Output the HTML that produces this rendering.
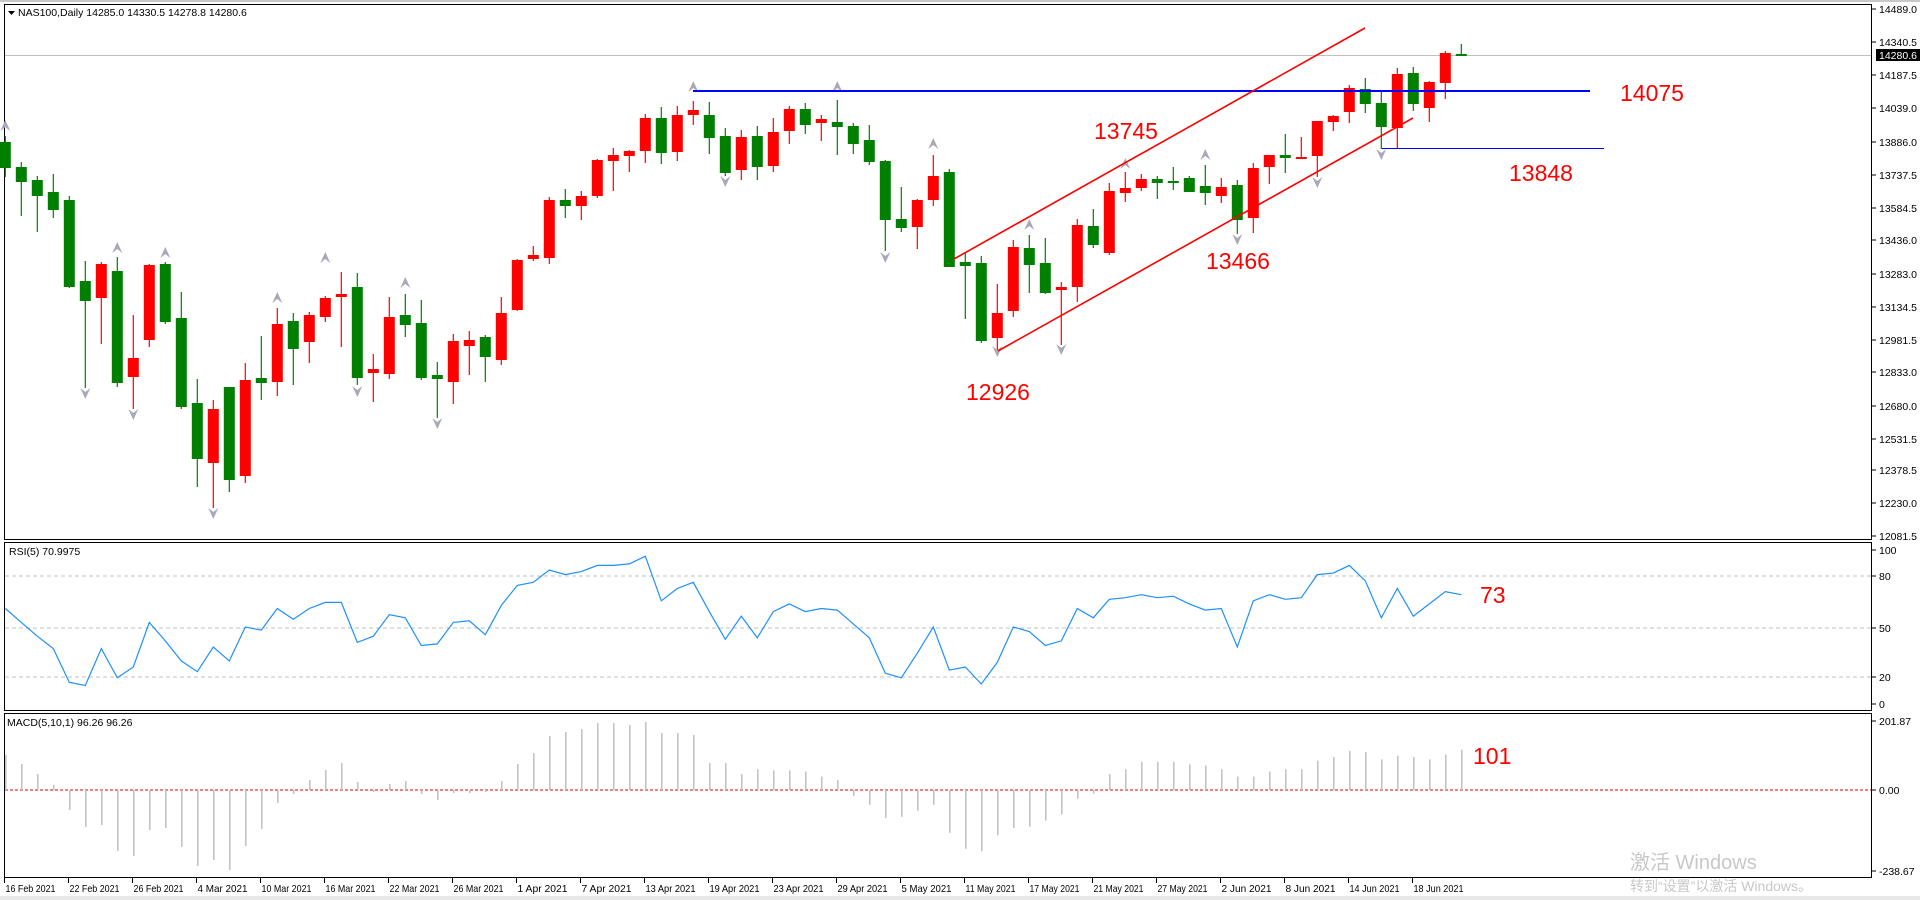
<!DOCTYPE html>
<html><head><meta charset="utf-8"><style>
html,body{margin:0;padding:0;background:#fff;width:1920px;height:900px;overflow:hidden}
svg{display:block}
text{font-family:"Liberation Sans","Noto Sans CJK SC",sans-serif}
</style></head><body>
<svg id="s" width="1920" height="900" viewBox="0 0 1920 900" xmlns="http://www.w3.org/2000/svg">
<rect x="0" y="0" width="1920" height="900" fill="#fff"/>
<rect x="0" y="0" width="1920" height="2" fill="#c8c8c8"/>
<rect x="0" y="896" width="1920" height="4" fill="#e8e8e8"/>
<g id="g"></g>
</svg>
<script>
var g=document.getElementById('g');var h='';
function X(i){return 5.3+16*i;}
h+='<rect x="4.5" y="4.5" width="1867" height="535" fill="none" stroke="#000"/>';
h+='<rect x="4.5" y="542.5" width="1867" height="168" fill="none" stroke="#000"/>';
h+='<rect x="4.5" y="713.5" width="1867" height="164" fill="none" stroke="#000"/>';
h+='<line x1="5" y1="55.5" x2="1871" y2="55.5" stroke="#c0c0c0"/>';
var pl=[["14489.0",9],["14340.5",42],["14187.5",75],["14039.0",108],["13886.0",142],["13737.5",175],["13584.5",208],["13436.0",240],["13283.0",274],["13134.5",307],["12981.5",340],["12833.0",372],["12680.0",406],["12531.5",439],["12378.5",470],["12230.0",503],["12081.5",536]];
pl.forEach(function(p){h+='<line x1="1872" y1="'+p[1]+'" x2="1876" y2="'+p[1]+'" stroke="#000"/><text x="1879" y="'+(p[1]+4)+'" font-size="10.5" fill="#000">'+p[0]+'</text>';});
h+='<rect x="1876" y="49" width="44" height="12" fill="#000"/><text x="1879" y="59" font-size="10.5" fill="#fff">14280.6</text>';
[["100",550],["80",576],["50",628],["20",677],["0",704]].forEach(function(p){h+='<line x1="1872" y1="'+p[1]+'" x2="1876" y2="'+p[1]+'" stroke="#000"/><text x="1879" y="'+(p[1]+4)+'" font-size="10.5">'+p[0]+'</text>';});
[576,628,677].forEach(function(y){h+='<line x1="5" y1="'+y+'" x2="1871" y2="'+y+'" stroke="#c0c0c0" stroke-dasharray="4,3"/>';});
[["201.87",721],["0.00",790],["-238.67",871]].forEach(function(p){h+='<line x1="1872" y1="'+p[1]+'" x2="1876" y2="'+p[1]+'" stroke="#000"/><text x="1879" y="'+(p[1]+4)+'" font-size="10.5">'+p[0]+'</text>';});
var c=[[142,168,136,177],[167,182,162,216],[180,196,176,232],[192,210,174,218],[200,287,196,288],[281,301,261,388],[298,264,262,344],[271,383,257,387],[377,358,315,409],[340,265,264,347],[264,322,262,324],[318,407,292,409],[403,459,379,487],[463,409,400,508],[387,480,387,492],[476,380,363,483],[378,383,336,400],[382,324,308,396],[321,349,313,385],[342,315,312,363],[317,298,296,322],[297,294,272,347],[287,378,273,385],[373,369,354,402],[374,317,297,379],[315,325,294,337],[323,378,300,380],[375,379,362,418],[382,341,334,404],[346,340,331,375],[337,357,335,382],[360,313,297,365],[310,260,259,311],[259,255,246,261],[258,200,197,264],[200,206,189,218],[206,196,191,220],[196,160,159,198],[161,155,148,191],[156,151,150,172],[151,118,114,163],[118,153,107,164],[152,115,106,161],[115,110,101,125],[115,138,102,154],[136,173,128,176],[170,137,130,180],[136,167,126,180],[166,132,118,172],[131,109,106,144],[109,125,103,134],[123,119,115,141],[122,127,100,155],[126,144,123,154],[140,162,125,165],[161,220,160,251],[219,228,187,232],[227,200,199,249],[200,176,155,206],[172,267,169,267],[262,266,252,319],[263,341,256,343],[338,313,284,352],[311,247,240,317],[248,265,235,293],[263,293,238,294],[290,287,282,345],[287,225,219,302],[226,245,209,248],[253,191,183,255],[193,188,172,202],[188,179,174,191],[179,183,176,199],[181,182,167,190],[178,192,176,192],[186,193,165,205],[196,187,178,203],[185,220,180,234],[218,168,163,233],[167,155,155,184],[155,158,134,173],[159,157,137,159],[156,121,121,177],[122,116,115,131],[112,88,85,123],[89,104,78,113],[103,127,92,149],[128,74,68,148],[73,104,67,111],[108,82,81,122],[83,53,51,99],[54,55,44,55]];
c.forEach(function(d,i){var x=X(i);var up=d[1]<d[0];var col=up?'#ff0000':'#007f00';var t=Math.min(d[0],d[1]),b=Math.max(d[0],d[1]);if(b-t<2)b=t+2;
h+='<line x1="'+x+'" y1="'+d[2]+'" x2="'+x+'" y2="'+d[3]+'" stroke="'+col+'" stroke-width="1.2"/>';
h+='<rect x="'+(x-5.5)+'" y="'+t+'" width="11" height="'+(b-t)+'" fill="'+col+'"/>';});
var up=[[0,125],[7,247],[10,252],[17,297],[20,257],[25,282],[43,86],[52,86],[58,143],[64,224],[70,163],[75,154]];
var dn=[[5,394],[8,415],[13,514],[22,392],[27,424],[45,182],[55,258],[62,352],[66,350],[77,240],[82,183],[86,155]];
up.forEach(function(a){var x=X(a[0]),y=a[1];h+='<path d="M'+(x-5)+' '+(y+6)+' L'+x+' '+(y-5)+' L'+(x+5)+' '+(y+6)+' L'+x+' '+(y+2)+'Z" fill="#a8a8b8"/>';});
dn.forEach(function(a){var x=X(a[0]),y=a[1];h+='<path d="M'+(x-5)+' '+(y-6)+' L'+x+' '+(y+5)+' L'+(x+5)+' '+(y-6)+' L'+x+' '+(y-2)+'Z" fill="#a8a8b8"/>';});
h+='<line x1="693" y1="91" x2="1590" y2="91" stroke="#0000ff" stroke-width="2"/>';
h+='<line x1="1382" y1="148.5" x2="1604" y2="148.5" stroke="#0000ff" stroke-width="1"/>';
h+='<line x1="954" y1="259" x2="1365" y2="28" stroke="#ff0000" stroke-width="1.6"/>';
h+='<line x1="998" y1="351" x2="1413" y2="118" stroke="#ff0000" stroke-width="1.6"/>';
var L=[["14075",1620,101],["13848",1509,181],["13745",1094,139],["13466",1206,269],["12926",966,400],["73",1480,603],["101",1473,764]];
L.forEach(function(l){h+='<text x="'+l[1]+'" y="'+l[2]+'" font-size="23" fill="#ff0000">'+l[0]+'</text>';});
var r=[62,53,44,36,14,12,36,17,24,53,41,28,21,37,28,50,48,62,55,62,66,66,40,44,58,56,38,39,53,54,45,64,77,79,87,84,86,90,90,91,96,67,75,79,60,42,57,43,60,65,60,62,61,52,43,20,17,33,50,22,24,13,27,50,47,38,41,62,56,68,69,71,69,70,65,61,62,37,67,71,68,69,84,85,90,80,56,75,57,65,73,71];
var pts=r.map(function(v,i){return X(i)+','+(704-v*1.54).toFixed(1);}).join(' ');
h+='<polyline points="'+pts+'" fill="none" stroke="#1e90ff" stroke-width="1.2"/>';
h+='<line x1="5" y1="790" x2="1871" y2="790" stroke="#e00000" stroke-dasharray="3,2"/>';
var m=[755,764,774,785,810,827,825,851,856,830,828,847,866,860,870,846,829,803,794,780,770,763,782,792,784,781,794,800,793,793,792,781,764,753,736,732,729,723,723,725,722,733,733,735];
var md=[623,623,632,628,629,629,630,634,637,650,657,668,667,662,657,680,693,695,682,676,675,670,665,652,648,632,628,622,622,622,624,625,628,634,634,630,628,628,621,618,613,614,620,617,618,620,616,612];
md.forEach(function(v){m.push(790+(v-645)*1.2245);});
m.forEach(function(y,i){var x=X(i)+0.5;h+='<line x1="'+x+'" y1="790" x2="'+x+'" y2="'+y.toFixed(1)+'" stroke="#c0c0c0" stroke-width="1.5"/>';});
var D=["16 Feb 2021","22 Feb 2021","26 Feb 2021","4 Mar 2021","10 Mar 2021","16 Mar 2021","22 Mar 2021","26 Mar 2021","1 Apr 2021","7 Apr 2021","13 Apr 2021","19 Apr 2021","23 Apr 2021","29 Apr 2021","5 May 2021","11 May 2021","17 May 2021","21 May 2021","27 May 2021","2 Jun 2021","8 Jun 2021","14 Jun 2021","18 Jun 2021"];
D.forEach(function(d,k){var x=4.5+64*k;h+='<line x1="'+x+'" y1="878" x2="'+x+'" y2="883" stroke="#000"/><text x="'+(x+1)+'" y="892" font-size="10.5" textLength="50" lengthAdjust="spacingAndGlyphs">'+d+'</text>';});
h+='<path d="M8 11 L15 11 L11.5 15Z" fill="#000"/><text x="18" y="16" font-size="10.5">NAS100,Daily  14285.0 14330.5 14278.8 14280.6</text>';
h+='<text x="9" y="555" font-size="10.5">RSI(5) 70.9975</text>';
h+='<text x="7" y="726" font-size="10.5">MACD(5,10,1) 96.26 96.26</text>';
h+='<text x="1630" y="869" font-size="20" fill="#c8c8c8">激活 Windows</text>';
h+='<text x="1630" y="891" font-size="14" fill="#c8c8c8">转到“设置”以激活 Windows。</text>';
g.innerHTML=h;
</script>
</body></html>
